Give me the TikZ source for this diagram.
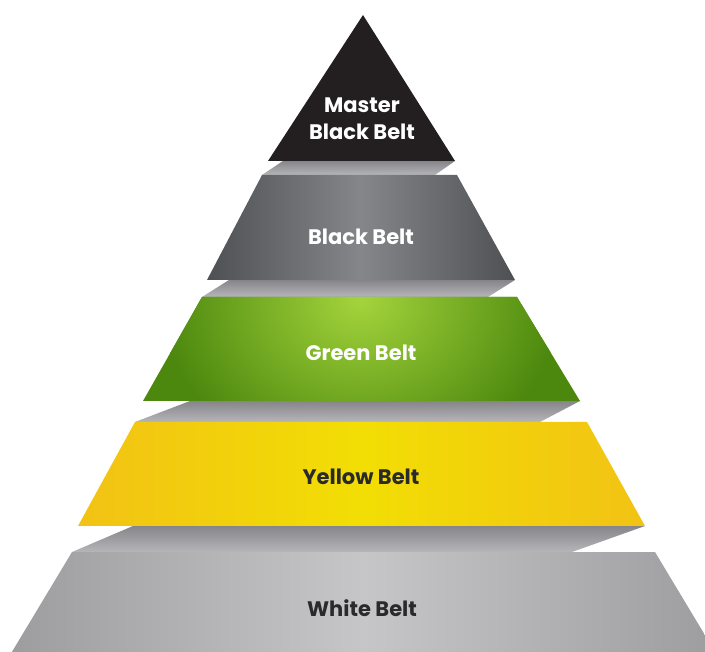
\documentclass[tikz,border=0pt]{standalone}
\usepackage{fontspec}
\setmainfont{Poppins}
\usepackage{xcolor}

% Colours of the levels
\definecolor{masterfill}{HTML}{231F20}
\definecolor{blackedge}{HTML}{4E5054}
\definecolor{blackmid}{HTML}{84868A}
\definecolor{greenedge}{HTML}{4C880E}
\definecolor{greenhigh}{HTML}{A4D43C}
\definecolor{yellowedge}{HTML}{F2C214}
\definecolor{yellowmid}{HTML}{F2DE04}
\definecolor{whiteedge}{HTML}{9A9A9C}
\definecolor{whitemid}{HTML}{C6C6C8}
\definecolor{bandtop}{HTML}{86868A}
\definecolor{bandbot}{HTML}{B6B6BA}
\definecolor{darktext}{HTML}{2A2A2A}

\begin{document}
\begin{tikzpicture}[
    x=1pt, y=-1pt,
    belt text/.style = {font=\fontsize{21}{27}\selectfont\bfseries, align=center},
    band/.style = {top color=bandtop, bottom color=bandbot},
    tier black/.style = {left color=blackedge, right color=blackedge, middle color=blackmid},
    tier yellow/.style = {left color=yellowedge, right color=yellowedge, middle color=yellowmid},
    tier white/.style = {left color=whiteedge, right color=whiteedge, middle color=whitemid}
]

% Frame as in the original (cut off at the bottom)
\useasboundingbox (0,0) rectangle (705,652);
\clip (0,0) rectangle (705,652);

% --- BANDS BETWEEN THE LEVELS ---
% \yt/\yb = top/bottom, \a/\b = upper edge, \c/\d = lower edge
\foreach \yt/\yb/\a/\b/\c/\d in {
    161/175/283/455/262/435,
    280/297/229/515/202/488,
    401/422/190/580/135/540,
    526/552/133/645/72/572%
} {
    \shade[band] (\a,\yt) -- (\b,\yt) -- (\d,\yb) -- (\c,\yb) -- cycle;
}

% --- LEVELS ---
% Top: Master Black Belt
\fill[masterfill] (363,15) -- (455,161) -- (268,161) -- cycle;

% Trapezia: \yt/\yb/top left/top right/bottom left/bottom right/style
\foreach \yt/\yb/\tl/\tr/\bl/\br/\sty in {
    175/280/262/457/207/515/tier black,
    422/526/135/587/78/645/tier yellow,
    552/700/72/655/-17/744/tier white%
} {
    \shade[\sty] (\tl,\yt) -- (\tr,\yt) -- (\br,\yb) -- (\bl,\yb) -- cycle;
}

% Green Belt with highlight at the top centre
\fill[greenedge] (202,297) -- (517,297) -- (580,401) -- (143,401) -- cycle;
\begin{scope}
    \clip (202,297) -- (517,297) -- (580,401) -- (143,401) -- cycle;
    \shade[inner color=greenhigh, outer color=greenedge] (360,300) ellipse (200 and 170);
\end{scope}

% --- LABELS ---
\node[belt text, text=white] (master) at (362,119) {Master\\Black Belt};
\node[belt text, text=white] (black) at (361,237) {Black Belt};
\node[belt text, text=white] (green) at (361,353) {Green Belt};
\node[belt text, text=darktext] (yellow) at (361,477) {Yellow Belt};
\node[belt text, text=darktext] (white) at (362,608) {White Belt};

\end{tikzpicture}
\end{document}
